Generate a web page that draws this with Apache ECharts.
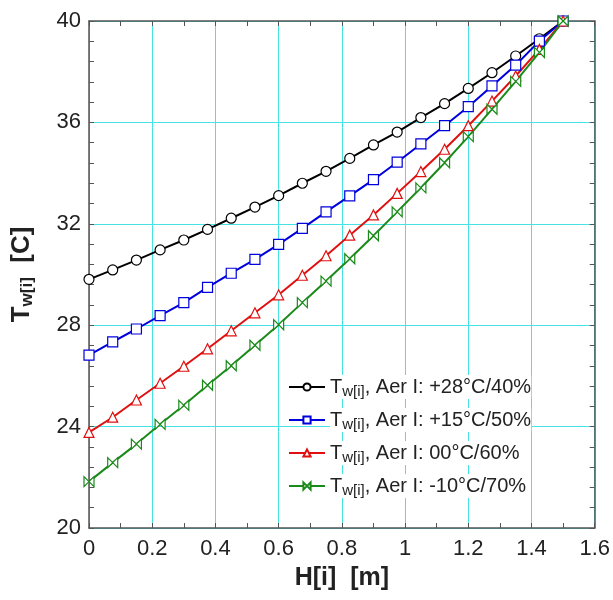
<!DOCTYPE html>
<html><head><meta charset="utf-8">
<script src="https://cdn.jsdelivr.net/npm/echarts@6/dist/echarts.min.js"></script>
<style>html,body{margin:0;padding:0;background:#fff}#c{width:613px;height:600px}</style>
</head><body><div id="c"></div>
<script>
var heights = [0,0.075,0.15,0.225,0.3,0.375,0.45,0.525,0.6,0.675,0.75,0.825,0.9,0.975,1.05,1.125,1.2,1.275,1.35,1.425,1.5];
var tw28 = [29.81,30.18,30.57,30.97,31.36,31.78,32.22,32.66,33.11,33.60,34.07,34.58,35.11,35.62,36.19,36.74,37.34,37.96,38.62,39.30,40.0];
var tw15 = [26.82,27.34,27.85,28.38,28.89,29.49,30.05,30.60,31.19,31.82,32.47,33.10,33.74,34.43,35.15,35.87,36.62,37.44,38.26,39.21,40.0];
var tw00 = [23.77,24.37,25.05,25.71,26.38,27.07,27.78,28.49,29.20,29.97,30.74,31.55,32.35,33.20,34.06,34.94,35.87,36.84,37.83,38.88,40.0];
var twm10 = [21.83,22.58,23.31,24.09,24.84,25.63,26.40,27.21,28.02,28.89,29.74,30.62,31.53,32.47,33.42,34.41,35.44,36.52,37.62,38.76,40.0];
var legendLabels = [', Aer I: +28°C/40%', ', Aer I: +15°C/50%', ', Aer I: 00°C/60%', ', Aer I: -10°C/70%'];
var seriesNames = ['s28','s15','s00','sm10'];

function pairs(ys){ return heights.map(function(h,i){return [h, ys[i]];}); }

var font = 'Liberation Sans, Arial, sans-serif';
var gridColor = '#45e3e3';
var axisColor = '#555';

var chart = echarts.init(document.getElementById('c'), null, {renderer:'canvas'});
var bowtie = 'path://M0,0 L10,10 L10,0 L0,10 Z';

function mkSeries(name, ys, color, symbol, size){
  return {
    name: name, type: 'line', data: pairs(ys), xAxisIndex: 0, yAxisIndex: 0,
    symbol: symbol, symbolSize: size, showAllSymbol: true,
    lineStyle: {color: color, width: 2},
    itemStyle: {color: '#fff', borderColor: color, borderWidth: 1.2},
    emphasis: {disabled: true}, animation: false, z: 3
  };
}

chart.setOption({
  animation: false,
  backgroundColor: '#fff',
  textStyle: {fontFamily: font},
  grid: {left: 89, top: 21, right: 16, bottom: 72, containLabel: false},
  xAxis: [{
    type: 'value', min: 0, max: 1.6, interval: 0.2, position: 'bottom',
    axisLine: {show: true, onZero: false, lineStyle: {color: axisColor, width: 1.5}},
    axisTick: {show: true, inside: true, length: 5, lineStyle: {color: axisColor}},
    minorTick: {show: true, splitNumber: 2, length: 5, lineStyle: {color: axisColor}},
    splitLine: {show: true, lineStyle: {color: gridColor, width: 1}},
    axisLabel: {fontSize: 22, color: '#222', margin: 10, fontFamily: font},
    name: 'H[i]  [m]', nameLocation: 'middle', nameGap: 38,
    nameTextStyle: {fontSize: 25, fontWeight: 'bold', color: '#222', fontFamily: font}
  },{
    type: 'value', min: 0, max: 1.6, interval: 0.2, position: 'top',
    axisLine: {show: true, onZero: false, lineStyle: {color: axisColor, width: 1.5}},
    axisTick: {show: true, inside: true, length: 5, lineStyle: {color: axisColor}},
    minorTick: {show: true, splitNumber: 2, length: 5, lineStyle: {color: axisColor}},
    splitLine: {show: false}, axisLabel: {show: false}
  }],
  yAxis: [{
    type: 'value', min: 20, max: 40, interval: 4, position: 'left',
    axisLine: {show: true, onZero: false, lineStyle: {color: axisColor, width: 1.5}},
    axisTick: {show: true, inside: true, length: 5, lineStyle: {color: axisColor}},
    minorTick: {show: true, splitNumber: 5, length: 5, lineStyle: {color: axisColor}},
    splitLine: {show: true, lineStyle: {color: gridColor, width: 1}},
    axisLabel: {fontSize: 22, color: '#222', margin: 8, fontFamily: font},
    name: '{t|T}{s|w[i]}{t|  [C]}', nameLocation: 'middle', nameGap: 53, nameRotate: 90,
    nameTextStyle: {color: '#222', fontFamily: font, rich: {
      t: {fontSize: 26, fontWeight: 'bold', color: '#222', fontFamily: font},
      s: {fontSize: 17, fontWeight: 'bold', color: '#222', fontFamily: font, padding: [12,0,0,0]}
    }}
  },{
    type: 'value', min: 20, max: 40, interval: 4, position: 'right',
    axisLine: {show: true, onZero: false, lineStyle: {color: axisColor, width: 1.5}},
    axisTick: {show: true, inside: true, length: 5, lineStyle: {color: axisColor}},
    minorTick: {show: true, splitNumber: 5, length: 5, lineStyle: {color: axisColor}},
    splitLine: {show: false}, axisLabel: {show: false}
  }],
  legend: {
    orient: 'vertical', left: 283, top: 370, itemGap: 9, itemWidth: 36, itemHeight: 9,
    data: seriesNames,
    formatter: function(n){ var i = seriesNames.indexOf(n); return '{t|T}{s|w[i]}{t|' + legendLabels[i] + '}'; },
    textStyle: {fontFamily: font, color: '#222', backgroundColor: '#fff', rich: {
      t: {fontSize: 20, color: '#222', fontFamily: font, backgroundColor: '#fff'},
      s: {fontSize: 15, color: '#222', fontFamily: font, padding: [9,0,0,0], backgroundColor: '#fff'}
    }}
  },
  series: [
    mkSeries('s28', tw28, '#000000', 'circle', 10),
    mkSeries('s15', tw15, '#0000dd', 'rect', 10),
    mkSeries('s00', tw00, '#e01010', 'triangle', 10),
    mkSeries('sm10', twm10, '#1a8a1a', bowtie, 10)
  ]
});
</script></body></html>
